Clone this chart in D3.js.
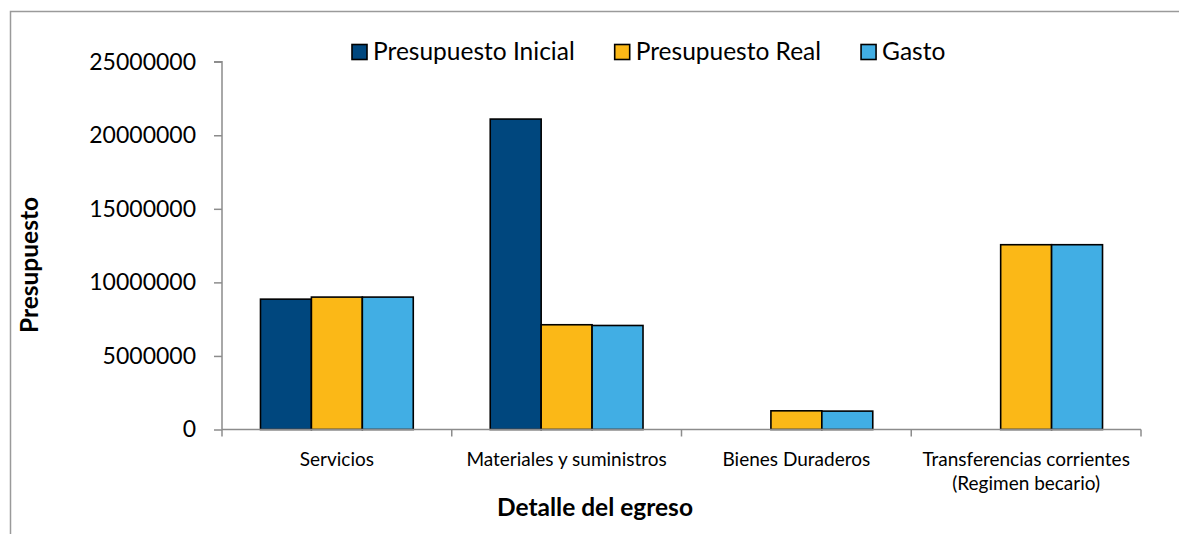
<!DOCTYPE html>
<html>
<head>
<meta charset="utf-8">
<script src="https://cdn.jsdelivr.net/npm/d3@7"></script>
<style>
  html, body { margin: 0; padding: 0; background: #fff; }
  svg { display: block; font-family: Lato, "Open Sans", sans-serif; }
</style>
</head>
<body>
<svg id="chart" width="1179" height="534"></svg>
<script>
// ---- data ----
const categories = [
  ["Servicios"],
  ["Materiales y suministros"],
  ["Bienes Duraderos"],
  ["Transferencias corrientes", "(Regimen becario)"]
];
const seriesNames = ["Presupuesto Inicial", "Presupuesto Real", "Gasto"];
const presupuestoInicial = [8860000, 21100000, 0, 0];
const presupuestoReal = [9000000, 7120000, 1270000, 12560000];
const gasto = [9000000, 7070000, 1250000, 12560000];
const yTicks = [0, 5000000, 10000000, 15000000, 20000000, 25000000];
const colors = ["#00477E", "#FBB817", "#41AEE4"];
const xTitle = "Detalle del egreso";
const yTitle = "Presupuesto";

const seriesValues = [presupuestoInicial, presupuestoReal, gasto];

// ---- layout ----
const svg = d3.select("#chart");
const plot = { left: 222, right: 1141, top: 61.7, bottom: 429.5 };
const axisColor = "#8c8c8c";

// outer frame (top and left edges visible)
svg.append("path")
  .attr("d", "M10.5,534 L10.5,11.5 L1179,11.5")
  .attr("fill", "none").attr("stroke", "#9a9a9a").attr("stroke-width", 1.5);

const y = d3.scaleLinear().domain([0, 25000000]).range([plot.bottom, plot.top]);
const x0 = d3.scaleBand().domain(d3.range(categories.length)).range([plot.left, plot.right]).padding(0);
const groupPad = 0.1675;
const x1 = d3.scaleBand().domain(d3.range(seriesNames.length))
  .range([x0.bandwidth() * groupPad, x0.bandwidth() * (1 - groupPad)]).padding(0);

// y axis
const yAxis = d3.axisLeft(y).tickValues(yTicks).tickSize(8).tickPadding(18).tickFormat(d3.format("d"));
const gy = svg.append("g").attr("transform", `translate(${plot.left},0)`).call(yAxis);
gy.select(".domain").attr("stroke", axisColor).attr("stroke-width", 1.5)
  .attr("d", `M-8,${plot.top}H0V${plot.bottom}`);
gy.selectAll(".tick line").attr("stroke", axisColor).attr("stroke-width", 1.5);
gy.selectAll(".tick text").attr("fill", "#000").style("font-size", "23px")
  .style("font-family", "Lato, sans-serif");

// bars
const groups = svg.append("g").selectAll("g")
  .data(categories.map((c, i) => i))
  .join("g")
  .attr("transform", i => `translate(${x0(i)},0)`);
groups.selectAll("rect")
  .data(i => seriesValues.map((vals, s) => ({ s, v: vals[i] })).filter(d => d.v > 0))
  .join("rect")
  .attr("x", d => x1(d.s))
  .attr("width", x1.bandwidth())
  .attr("y", d => y(d.v))
  .attr("height", d => y(0) - y(d.v))
  .attr("fill", d => colors[d.s])
  .attr("stroke", "#000").attr("stroke-width", 1.6);

// x axis
const xEdges = d3.range(categories.length + 1).map(i => plot.left + i * x0.bandwidth());
const gx = svg.append("g");
gx.append("line").attr("x1", plot.left).attr("x2", plot.right)
  .attr("y1", plot.bottom).attr("y2", plot.bottom)
  .attr("stroke", axisColor).attr("stroke-width", 1.5);
gx.selectAll("line.tk").data(xEdges).join("line").attr("class", "tk")
  .attr("x1", d => d).attr("x2", d => d)
  .attr("y1", plot.bottom).attr("y2", plot.bottom + 7)
  .attr("stroke", axisColor).attr("stroke-width", 1.5);
gx.selectAll("text.cat").data(categories).join("text").attr("class", "cat")
  .attr("x", (d, i) => x0(i) + x0.bandwidth() / 2)
  .attr("y", 466)
  .attr("text-anchor", "middle")
  .style("font-size", "19px")
  .selectAll("tspan").data(d => d).join("tspan")
  .attr("x", function () { return this.parentNode.getAttribute("x"); })
  .attr("dy", (d, j) => j === 0 ? 0 : 24)
  .text(d => d);

// axis titles
svg.append("text").attr("x", 595).attr("y", 516).attr("text-anchor", "middle")
  .style("font-size", "24.5px").style("font-weight", "bold").text(xTitle);
svg.append("text").attr("transform", "translate(38,265) rotate(-90)").attr("text-anchor", "middle")
  .style("font-size", "24.5px").style("font-weight", "bold").text(yTitle);

// legend
const legend = svg.append("g");
let lx = 352;
seriesNames.forEach((name, i) => {
  legend.append("rect").attr("x", lx).attr("y", 44.5).attr("width", 15).attr("height", 15)
    .attr("fill", colors[i]).attr("stroke", "#000").attr("stroke-width", 1.6);
  const t = legend.append("text").attr("x", lx + 21).attr("y", 60)
    .style("font-size", "24.5px").text(name);
  lx += 21 + t.node().getComputedTextLength() + 40;
});
</script>
</body>
</html>
